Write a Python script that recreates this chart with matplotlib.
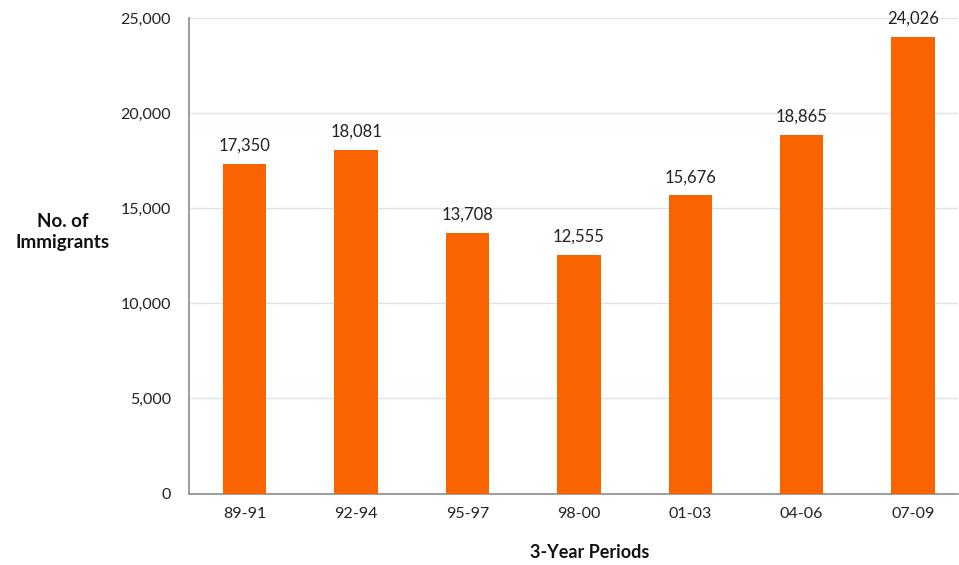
import matplotlib.pyplot as plt
from matplotlib.ticker import FuncFormatter

periods = ["89-91", "92-94", "95-97", "98-00", "01-03", "04-06", "07-09"]
immigrants = [17350, 18081, 13708, 12555, 15676, 18865, 24026]

plt.rcParams['font.family'] = ['Lato', 'DejaVu Sans']

W, H = 959, 565
fig = plt.figure(figsize=(W / 100, H / 100), dpi=100)
ax = fig.add_axes([189 / W, 1 - 493.5 / H, (958 - 189) / W, (493.5 - 18) / H])

x = range(len(periods))
bars = ax.bar(x, immigrants, width=0.39, color='#fa6400', zorder=3)
for b, v in zip(bars, immigrants):
    ax.annotate(f"{v:,}", (b.get_x() + b.get_width() / 2, v),
                xytext=(0, 7), textcoords='offset points',
                ha='center', va='bottom', fontsize=12, color='#222222')

ax.set_xlim(-0.5, 6.404)
ax.set_ylim(0, 25000)
ax.set_yticks(range(0, 25001, 5000))
ax.yaxis.set_major_formatter(FuncFormatter(lambda v, p: f"{int(v):,}"))
ax.set_xticks(list(x))
ax.set_xticklabels(periods)
ax.tick_params(axis='both', length=0, labelsize=11.5, colors='#222222')
ax.tick_params(axis='y', pad=13)
ax.tick_params(axis='x', pad=10)

ax.grid(axis='y', color='#dbe3ec', linewidth=1, zorder=0)
for s in ['top', 'right']:
    ax.spines[s].set_visible(False)
for s in ['left', 'bottom']:
    ax.spines[s].set_color('#8c8c8c')
    ax.spines[s].set_linewidth(1.2)

fig.text(63 / W, 1 - 232 / H, "No. of\nImmigrants", ha='center', va='center',
         fontsize=13.5, fontweight='bold', color='#111111', linespacing=1.35)
fig.text(590 / W, 1 - 552 / H, "3-Year Periods", ha='center', va='center',
         fontsize=13, fontweight='bold', color='#111111')

fig.savefig("out.png", dpi=100)
